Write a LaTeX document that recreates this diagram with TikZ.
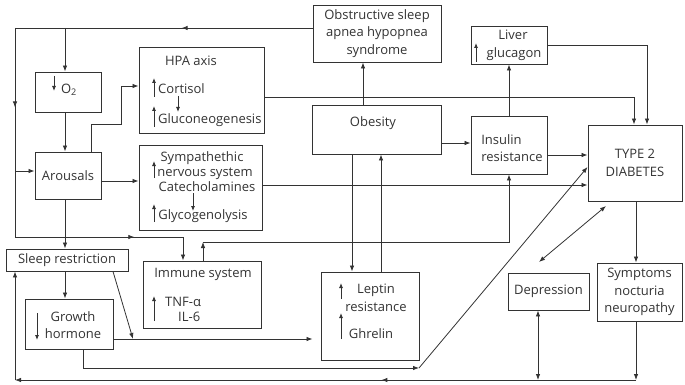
\documentclass[tikz,border=0pt]{standalone}
\usepackage{fontspec}
\setmainfont{Open Sans}
\usetikzlibrary{arrows.meta,decorations.markings}
\definecolor{ink}{HTML}{333333}
\begin{document}
\begin{tikzpicture}[x=1pt,y=-1pt,
  every node/.style={text=ink, font=\fontsize{13}{17.5}\selectfont, inner sep=0pt},
  box/.style={draw=ink, line width=0.9pt, align=center},
  line/.style={draw=ink, line width=0.8pt},
  arr/.style={line, -{Latex[length=6pt,width=4.5pt]}},
  darr/.style={line, {Latex[length=6pt,width=4.5pt]}-{Latex[length=6pt,width=4.5pt]}},
  tip/.style={draw=ink, line width=0.8pt, -{Latex[length=5pt,width=4pt]}},
  midarrow/.style={postaction={decorate, decoration={markings,
      mark=at position #1 with {\arrow{Latex[length=6pt,width=4.5pt]}}}}},
]
\useasboundingbox (0,0) rectangle (685,385);

% ---------- boxes ----------
\node[box, minimum width=66pt, minimum height=40pt] (o2) at (68,92) {};
\node (o2t) at (69,90) {O\textsubscript{2}};
\draw[tip] (54,76) -- (54,91);

\node[box, minimum width=125pt, minimum height=86pt] (hpa) at (201.5,90) {};
\node[anchor=base] (hpat) at (191,66) {HPA axis};
\node[anchor=base west] (cort) at (158,94) {Cortisol};
\node[anchor=base west] (gluc) at (158,124) {Gluconeogenesis};
\draw[tip] (154,97) -- (154,78);
\draw[tip] (154,127) -- (154,106);
\draw[tip] (178,96) -- (178,112);

\node[box, minimum width=66pt, minimum height=47pt] (aro) at (68,175.5) {Arousals};

\node[box, minimum width=123pt, minimum height=85pt] (sns) at (200.5,187.5) {};
\node[anchor=base] (snst1) at (202,161) {Sympathethic};
\node[anchor=base] (snst2) at (205,176) {nervous system};
\node[anchor=base] (snst3) at (207,191) {Catecholamines};
\node[anchor=base] (snst4) at (203,219) {Glycogenolysis};
\draw[tip] (154,178) -- (154,161);
\draw[tip] (193,193) -- (193,211);
\draw[tip] (154,222) -- (154,204);

\node[box, minimum width=122pt, minimum height=22pt] (sle) at (67,260) {Sleep restriction};

\node[box, minimum width=88pt, minimum height=50pt] (gro) at (69,324) {};
\node[anchor=base] (grot1) at (73,321) {Growth};
\node[anchor=base] (grot2) at (73,338) {hormone};
\draw[tip] (37,313) -- (37,340);

\node[box, minimum width=118pt, minimum height=67pt] (imm) at (202,294.5) {};
\node[anchor=base] (immt) at (203,277) {Immune system};
\node[anchor=base west] (tnf) at (165,306) {TNF-α};
\node[anchor=base west] (il6) at (178,321) {IL-6};
\draw[tip] (154,321) -- (154,296);

\node[box, minimum width=128pt, minimum height=57pt] (osa) at (377,33.5)
  {Obstructive sleep\\apnea hypopnea\\syndrome};

\node[box, minimum width=76pt, minimum height=38pt] (liv) at (509,45) {};
\node[anchor=base] (livt1) at (513,40) {Liver};
\node[anchor=base] (livt2) at (514,58) {glucagon};
\draw[tip] (476,62) -- (476,43);

\node[box, minimum width=129pt, minimum height=49pt] (obe) at (376.5,129.5) {};
\node (obet) at (373,123) {Obesity};

\node[box, minimum width=76pt, minimum height=58pt] (ins) at (509,145) {};
\node[align=left] (inst) at (512,148) {Insulin\\resistance};

\node[box, minimum width=94pt, minimum height=76pt] (dia) at (635,163) {TYPE 2\\DIABETES};

\node[box, minimum width=98pt, minimum height=88pt] (lep) at (370,316) {};
\node[anchor=base] (lept1) at (376,293) {Leptin};
\node[anchor=base] (lept2) at (376,311) {resistance};
\node[anchor=base] (lept3) at (371,338) {Ghrelin};
\draw[tip] (341,299) -- (341,283);
\draw[tip] (341,339) -- (341,313);

\node[box, minimum width=81pt, minimum height=37pt] (dep) at (548.5,291.5) {Depression};

\node[box, minimum width=85pt, minimum height=58pt] (symp) at (639.5,292)
  {Symptoms\\nocturia\\neuropathy};

% ---------- feedback loop from OSAHS ----------
\coordinate (tl) at (15,28);
\coordinate (bl) at (15,237);
\coordinate (ij) at (183,237);
\draw[line, midarrow=0.44] (osa.west |- tl) -- (tl);
\draw[line, midarrow=0.38] (tl) -- (bl);
\draw[line, midarrow=0.71] (bl) -- (ij);
\draw[arr] (ij) -- (imm.north -| ij);
\draw[arr] (tl -| 65,0) -- (o2.north -| 65,0);
\draw[arr] (tl |- 0,171) -- (aro.west |- 0,171);

% ---------- arousal chain ----------
\draw[arr] (o2.south -| 65,0) -- (aro.north -| 65,0);
\draw[arr] (aro.south -| 65,0) -- (sle.north -| 65,0);
\draw[arr] (sle.south -| 65,0) -- (gro.north -| 65,0);
\coordinate (h1) at (91,124);
\coordinate (h2) at (121,86);
\draw[arr] (aro.north -| h1) -- (h1) -| (h2) -- (hpa.west |- h2);
\draw[arr] (aro.east |- 0,181) -- (sns.west |- 0,181);

% ---------- sleep restriction and growth hormone ----------
\coordinate (sd) at (133,339);
\draw[arr] (sle.south -| 113,0) -- (sd);
\draw[arr, shorten >=8pt] (gro.east |- 0,339) -- (lep.west |- 0,339);
\coordinate (gc) at (419,368);
\draw[arr] (gro.south -| 83,0) |- (gc);
\draw[arr] (gc) -- (dia.west |- 0,167);

% ---------- immune system to insulin resistance ----------
\coordinate (ic) at (203,242);
\draw[arr] (imm.north -| ic) -- (ic);
\draw[arr] (ic) -| (ins.south);

% ---------- obesity ----------
\draw[arr] (obe.north -| 363,0) -- (osa.south -| 363,0);
\draw[arr] (obe.east |- 0,143) -- (ins.west |- 0,143);
\draw[arr] (obe.south -| 352,0) -- (lep.north -| 352,0);
\draw[arr] (lep.north -| 381,0) -- (obe.south -| 381,0);

% ---------- into type 2 diabetes ----------
\draw[arr] (ins.north) -- (liv.south);
\draw[arr] (ins.east |- 0,155) -- (dia.west |- 0,155);
\draw[arr] (liv.east) -| (dia.north -| 647,0);
\draw[arr] (hpa.east |- 0,97) -| (dia.north -| 634,0);
\draw[arr] (sns.east |- 0,185) -- (dia.west |- 0,185);
\draw[arr] (dia.south -| 636,0) -- (symp.north -| 636,0);
\coordinate (dd1) at (539,262);
\coordinate (dd2) at (606,206);
\draw[darr] (dd1) -- (dd2);

% ---------- bottom return line ----------
\coordinate (br) at (636,380);
\coordinate (bot) at (15,380);
\draw[arr] (symp.south -| br) -- (br);
\draw[darr] (dep.south -| 538,0) -- (538,380);
\draw[arr, midarrow=0.41] (br) -- (bot);
\draw[arr] (bot) -- (sle.south -| bot);
\end{tikzpicture}
\end{document}
